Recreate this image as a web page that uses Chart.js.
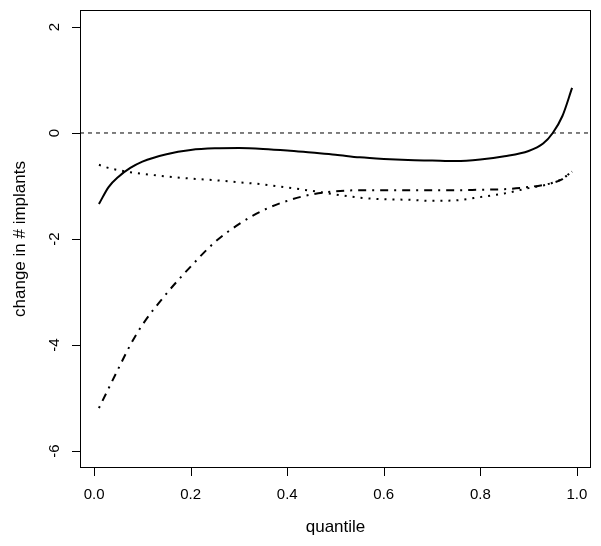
<html lang="en">
<head>
<meta charset="UTF-8">
<title>change in # implants by quantile</title>
<style>
    body { margin: 0; background: #ffffff; }
    #wrap { width: 601px; height: 546px; }
</style>
</head>
<body>
<div id="wrap"><canvas id="chart" width="601" height="546"></canvas></div>
<script src="https://cdn.jsdelivr.net/npm/chart.js"></script>
<script>
    // quantile grid shared by the three curves
    const quantiles = [0.01, 0.03, 0.05, 0.075, 0.1, 0.15, 0.2, 0.25, 0.3, 0.35, 0.4, 0.45, 0.5,
                       0.55, 0.6, 0.65, 0.7, 0.75, 0.8, 0.85, 0.9, 0.93, 0.95, 0.97, 0.99];

    const solidValues = [-1.34, -1.02, -0.83, -0.66, -0.54, -0.40, -0.32, -0.29, -0.285, -0.30, -0.33, -0.37, -0.41,
                         -0.46, -0.49, -0.51, -0.52, -0.53, -0.50, -0.44, -0.34, -0.20, 0.00, 0.32, 0.85];

    const dottedValues = [-0.60, -0.66, -0.70, -0.74, -0.77, -0.82, -0.86, -0.89, -0.93, -0.97, -1.03, -1.09, -1.16,
                          -1.22, -1.25, -1.26, -1.28, -1.27, -1.21, -1.14, -1.04, -0.99, -0.94, -0.86, -0.73];

    const dashDotValues = [-5.19, -4.82, -4.45, -4.00, -3.62, -3.03, -2.52, -2.06, -1.72, -1.46, -1.28, -1.16, -1.10,
                           -1.08, -1.08, -1.08, -1.08, -1.08, -1.07, -1.06, -1.02, -0.98, -0.94, -0.87, -0.72];

    const xTicks = [0, 0.2, 0.4, 0.6, 0.8, 1.0];
    const xTickLabels = ["0.0", "0.2", "0.4", "0.6", "0.8", "1.0"];
    const yTicks = [-6, -4, -2, 0, 2];
    const yTickLabels = ["-6", "-4", "-2", "0", "2"];
    const refLine = [0, 0];
    const refLineX = [-0.0292, 1.0292];

    function toPoints(xs, ys) {
        return xs.map((x, i) => ({ x: x, y: ys[i] }));
    }

    const tickFont = '15px "Liberation Sans", Arial, sans-serif';
    const titleFont = '17px "Liberation Sans", Arial, sans-serif';

    // R-style box, ticks and axis titles
    const rAxes = {
        id: 'rAxes',
        afterDraw(chart) {
            const c = chart.ctx;
            const a = chart.chartArea;
            const xs = chart.scales.x;
            const ys = chart.scales.y;
            c.save();
            c.strokeStyle = '#000';
            c.lineWidth = 1;
            c.strokeRect(a.left + 0.5, a.top + 0.5, a.right - a.left - 1, a.bottom - a.top - 1);

            c.fillStyle = '#000';
            c.font = tickFont;
            // x axis
            c.beginPath();
            xTicks.forEach(v => {
                const px = Math.round(xs.getPixelForValue(v)) + 0.5;
                c.moveTo(px, a.bottom);
                c.lineTo(px, a.bottom + 8);
            });
            c.stroke();
            c.textAlign = 'center';
            c.textBaseline = 'middle';
            xTicks.forEach((v, i) => {
                c.fillText(xTickLabels[i], xs.getPixelForValue(v), a.bottom + 27);
            });

            // y axis
            c.beginPath();
            yTicks.forEach(v => {
                const py = Math.round(ys.getPixelForValue(v)) + 0.5;
                c.moveTo(a.left, py);
                c.lineTo(a.left - 8, py);
            });
            c.stroke();
            yTicks.forEach((v, i) => {
                c.save();
                c.translate(a.left - 25, ys.getPixelForValue(v));
                c.rotate(-Math.PI / 2);
                c.fillText(yTickLabels[i], 0, 0);
                c.restore();
            });

            c.font = titleFont;
            c.fillText('quantile', (a.left + a.right) / 2, a.bottom + 59);
            c.save();
            c.translate(a.left - 60, (a.top + a.bottom) / 2);
            c.rotate(-Math.PI / 2);
            c.fillText('change in # implants', 0, 0);
            c.restore();
            c.restore();
        }
    };

    const ctx = document.getElementById('chart').getContext('2d');
    new Chart(ctx, {
        type: 'line',
        data: {
            datasets: [
                {
                    data: toPoints(refLineX, refLine),
                    borderColor: '#000',
                    borderWidth: 1,
                    borderDash: [4, 4],
                    pointRadius: 0,
                    tension: 0
                },
                {
                    data: toPoints(quantiles, dottedValues),
                    borderColor: '#000',
                    borderWidth: 2,
                    borderDash: [2, 6],
                    borderCapStyle: 'butt',
                    pointRadius: 0,
                    cubicInterpolationMode: 'monotone'
                },
                {
                    data: toPoints(quantiles, dashDotValues),
                    borderColor: '#000',
                    borderWidth: 2,
                    borderDash: [2, 6, 8, 6],
                    borderCapStyle: 'butt',
                    pointRadius: 0,
                    cubicInterpolationMode: 'monotone'
                },
                {
                    data: toPoints(quantiles, solidValues),
                    borderColor: '#000',
                    borderWidth: 2,
                    pointRadius: 0,
                    cubicInterpolationMode: 'monotone'
                }
            ]
        },
        options: {
            responsive: false,
            animation: false,
            events: [],
            layout: { padding: { left: 80, top: 10, right: 10, bottom: 78 } },
            scales: {
                x: { type: 'linear', min: -0.0292, max: 1.0292, display: false },
                y: { type: 'linear', min: -6.32, max: 2.32, display: false }
            },
            plugins: {
                legend: { display: false },
                tooltip: { enabled: false }
            }
        },
        plugins: [rAxes]
    });
</script>
</body>
</html>
